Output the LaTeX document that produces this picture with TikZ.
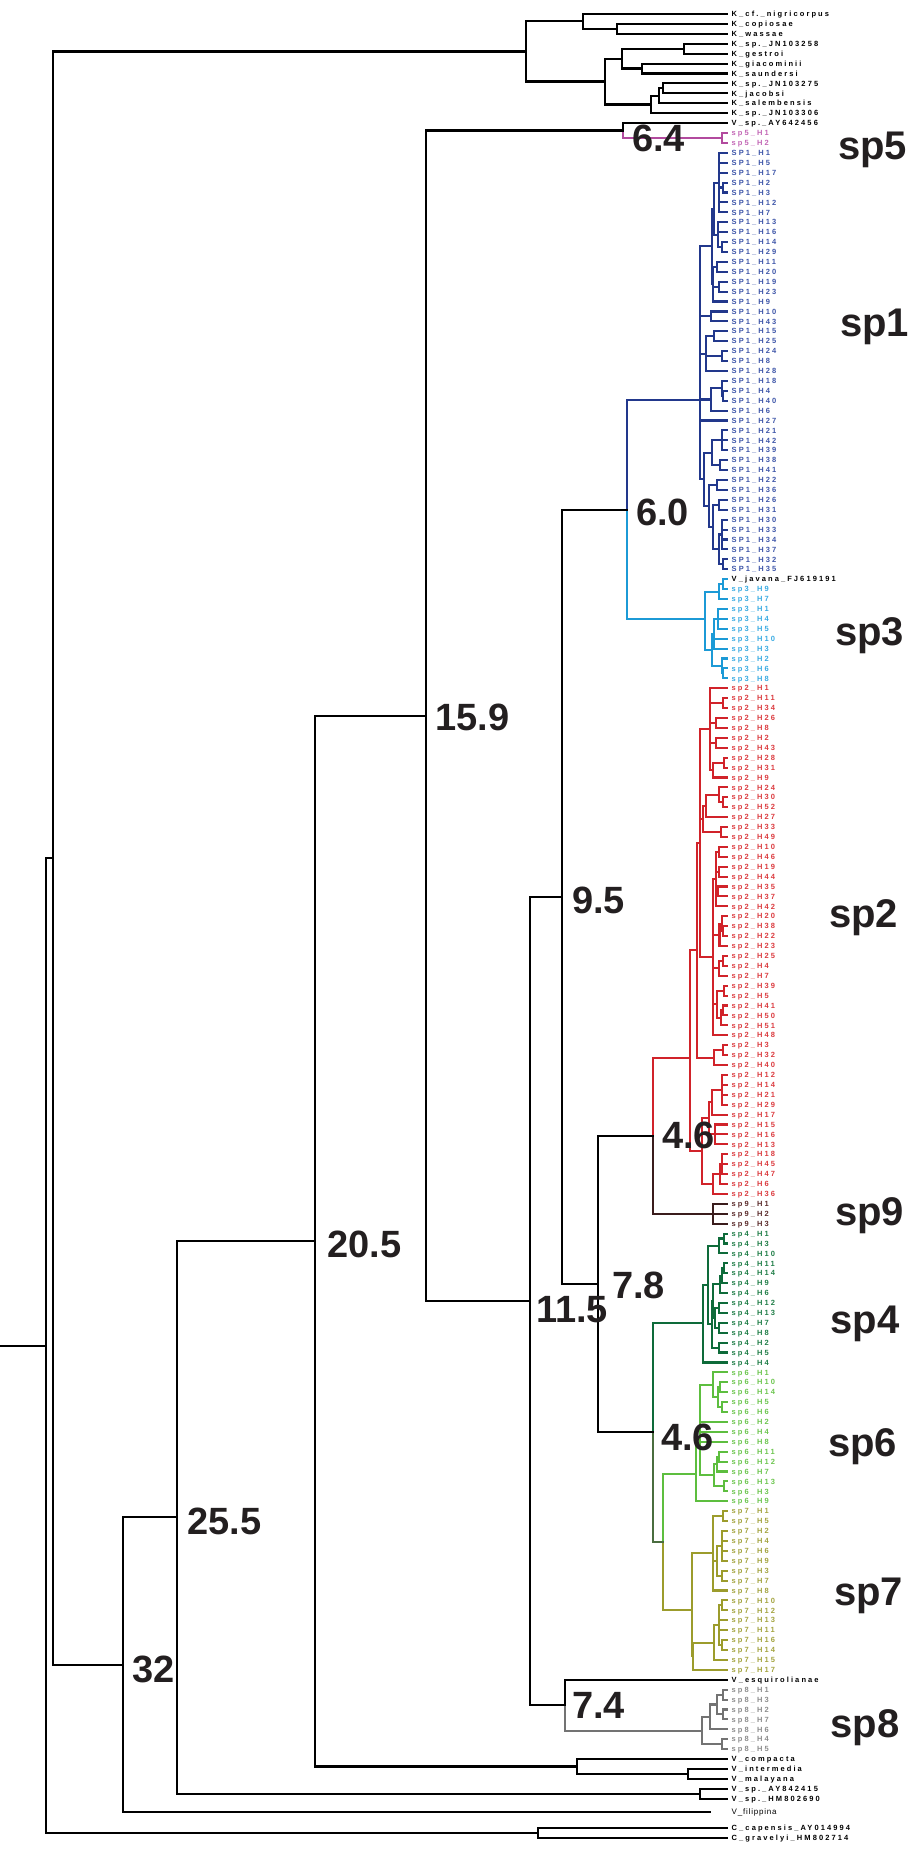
\documentclass[tikz,border=0pt]{standalone}
\usepackage{fontspec}
\setmainfont{Liberation Sans}
\newfontfamily\leaffont{Liberation Sans}[LetterSpace=28]
\newfontfamily\filfont{Liberation Sans}[LetterSpace=10]
\newfontfamily\bigfont{Liberation Sans}
\definecolor{ink}{HTML}{231F20}
\definecolor{c5}{HTML}{B24A9E}\definecolor{t5}{HTML}{C266B5}
\definecolor{c1}{HTML}{22388C}\definecolor{t1}{HTML}{3D55A8}
\definecolor{c3}{HTML}{1C9AD6}\definecolor{t3}{HTML}{3AABE2}
\definecolor{c2}{HTML}{D1232A}\definecolor{t2}{HTML}{DB3B3F}
\definecolor{c9}{HTML}{3A1C1C}\definecolor{t9}{HTML}{5B2B2B}
\definecolor{c4}{HTML}{0E6B3A}\definecolor{t4}{HTML}{1F7D47}
\definecolor{c6}{HTML}{5DBE3F}\definecolor{t6}{HTML}{6CC54E}
\definecolor{c7}{HTML}{9C9C2C}\definecolor{t7}{HTML}{A3A33F}
\definecolor{c8}{HTML}{737373}\definecolor{t8}{HTML}{8C8C8C}
\definecolor{c67}{HTML}{4A6D3F}
\tikzset{
  br/.style={line width=2.1pt, line cap=rect, line join=miter},
  leaf/.style={anchor=west, inner sep=0pt, text height=5.4pt, text depth=0pt,
    font=\leaffont\bfseries\fontsize{7.5}{7.5}\selectfont},
  filleaf/.style={anchor=west, inner sep=0pt, text height=5.7pt, text depth=0pt,
    font=\filfont\fontsize{8}{8}\selectfont},
  splab/.style={anchor=base west, inner sep=0pt, text=ink,
    font=\bigfont\bfseries\fontsize{40}{40}\selectfont},
  numlab/.style={anchor=base west, inner sep=0pt, text=ink,
    font=\bigfont\bfseries\fontsize{38}{38}\selectfont}
}
\makeatletter
\newdimen\tnd
\newcommand\Lf[4]{%
  \coordinate (L#1) at (727,{14+(#1-1)*9.915});
  \node[leaf,text=#3] (L#1t) at (731.5,{14+(#1-1)*9.915}) {#4};
  \expandafter\xdef\csname tc@L#1\endcsname{#2}%
}
\newcommand\Inner[5][]{%
  \gdef\tn@first{}%
  \foreach \c in {#5}{%
    \pgfpointanchor{\c}{center}%
    \ifx\tn@first\@empty\xdef\tn@first{\the\pgf@y}\fi
    \xdef\tn@last{\the\pgf@y}%
  }%
  \if\relax\detokenize{#1}\relax
    \tnd=\tn@first\relax
    \advance\tnd by \tn@last\relax
    \divide\tnd by 2\relax
    \coordinate (#2) at (#3pt,\the\tnd);
  \else
    \coordinate (#2) at (#3,#1);
  \fi
  \foreach \c in {#5}{%
    \edef\tn@col{\csname tc@\c\endcsname}%
    \draw[br,draw=\tn@col] (#2) |- (\c);
  }%
  \expandafter\xdef\csname tc@#2\endcsname{#4}%
}
\makeatother
\begin{document}
\begin{tikzpicture}[x=1pt,y=-1pt]
\useasboundingbox (0,0) rectangle (914,1850);
% ---------------- leaves ----------------
\Lf{1}{black}{black}{K\_cf.\_nigricorpus}
\Lf{2}{black}{black}{K\_copiosae}
\Lf{3}{black}{black}{K\_wassae}
\Lf{4}{black}{black}{K\_sp.\_JN103258}
\Lf{5}{black}{black}{K\_gestroi}
\Lf{6}{black}{black}{K\_giacominii}
\Lf{7}{black}{black}{K\_saundersi}
\Lf{8}{black}{black}{K\_sp.\_JN103275}
\Lf{9}{black}{black}{K\_jacobsi}
\Lf{10}{black}{black}{K\_salembensis}
\Lf{11}{black}{black}{K\_sp.\_JN103306}
\Lf{12}{black}{black}{V\_sp.\_AY642456}
\Lf{13}{c5}{t5}{sp5\_H1}
\Lf{14}{c5}{t5}{sp5\_H2}
\foreach \i/\h in {15/1,16/5,17/17,18/2,19/3,20/12,21/7,22/13,23/16,24/14,25/29,26/11,27/20,28/19,29/23,30/9,31/10,32/43,33/15,34/25,35/24,36/8,37/28,38/18,39/4,40/40,41/6,42/27,43/21,44/42,45/39,46/38,47/41,48/22,49/36,50/26,51/31,52/30,53/33,54/34,55/37,56/32,57/35}{\Lf{\i}{c1}{t1}{SP1\_H\h}}
\Lf{58}{c3}{black}{V\_javana\_FJ619191}
\foreach \i/\h in {59/9,60/7,61/1,62/4,63/5,64/10,65/3,66/2,67/6,68/8}{\Lf{\i}{c3}{t3}{sp3\_H\h}}
\foreach \i/\h in {69/1,70/11,71/34,72/26,73/8,74/2,75/43,76/28,77/31,78/9,79/24,80/30,81/52,82/27,83/33,84/49,85/10,86/46,87/19,88/44,89/35,90/37,91/42,92/20,93/38,94/22,95/23,96/25,97/4,98/7,99/39,100/5,101/41,102/50,103/51,104/48,105/3,106/32,107/40,108/12,109/14,110/21,111/29,112/17,113/15,114/16,115/13,116/18,117/45,118/47,119/6,120/36}{\Lf{\i}{c2}{t2}{sp2\_H\h}}
\foreach \i/\h in {121/1,122/2,123/3}{\Lf{\i}{c9}{t9}{sp9\_H\h}}
\foreach \i/\h in {124/1,125/3,126/10,127/11,128/14,129/9,130/6,131/12,132/13,133/7,134/8,135/2,136/5,137/4}{\Lf{\i}{c4}{t4}{sp4\_H\h}}
\foreach \i/\h in {138/1,139/10,140/14,141/5,142/6,143/2,144/4,145/8,146/11,147/12,148/7,149/13,150/3,151/9}{\Lf{\i}{c6}{t6}{sp6\_H\h}}
\foreach \i/\h in {152/1,153/5,154/2,155/4,156/6,157/9,158/3,159/7,160/8,161/10,162/12,163/13,164/11,165/16,166/14,167/15,168/17}{\Lf{\i}{c7}{t7}{sp7\_H\h}}
\Lf{169}{black}{black}{V\_esquirolianae}
\foreach \i/\h in {170/1,171/3,172/2,173/7,174/6,175/4,176/5}{\Lf{\i}{c8}{t8}{sp8\_H\h}}
\Lf{177}{black}{black}{V\_compacta}
\Lf{178}{black}{black}{V\_intermedia}
\Lf{179}{black}{black}{V\_malayana}
\Lf{180}{black}{black}{V\_sp.\_AY842415}
\Lf{181}{black}{black}{V\_sp.\_HM802690}
\coordinate (L182) at (710,1812);
\node[filleaf] (L182t) at (731.5,1812) {V\_filippina};
\expandafter\xdef\csname tc@L182\endcsname{black}
\coordinate (L183) at (727,1828);
\node[leaf] (L183t) at (731.5,1828) {C\_capensis\_AY014994};
\expandafter\xdef\csname tc@L183\endcsname{black}
\coordinate (L184) at (727,1838);
\node[leaf] (L184t) at (731.5,1838) {C\_gravelyi\_HM802714};
\expandafter\xdef\csname tc@L184\endcsname{black}
% ---------------- K clade ----------------
\Inner{KI}{663.3}{black}{L8,L9}
\Inner{KH}{659.3}{black}{KI,L10}
\Inner{KG}{651}{black}{KH,L11}
\Inner{KE}{684.3}{black}{L4,L5}
\Inner{KF}{641.7}{black}{L6,L7}
\Inner{KD}{621.7}{black}{KE,KF}
\Inner{KC}{605}{black}{KD,KG}
\Inner{KB}{617.3}{black}{L2,L3}
\Inner{KA}{582.7}{black}{L1,KB}
\Inner{Kr}{526}{black}{KA,KC}
% ---------------- sp5 ----------------
\Inner{S5}{721.7}{c5}{L13,L14}
\Inner{VS5}{623.3}{black}{L12,S5}
% ---------------- sp1 ----------------
\Inner{T1a}{723.3}{c1}{L18,L19}
\Inner{T1}{719.3}{c1}{L15,L16,L17,T1a,L20,L21}
\Inner{T2a}{722}{c1}{L24,L25}
\Inner{T2}{718}{c1}{L22,L23,T2a}
\Inner{T12}{714}{c1}{T1,T2}
\Inner{T3a}{716.7}{c1}{L26,L27}
\Inner{T3b}{719.3}{c1}{L28,L29}
\Inner{T3}{713}{c1}{T3a,T3b,L30}
\Inner{T}{711.7}{c1}{T12,T3}
\Inner{M1}{711}{c1}{L31,L32}
\Inner{M2}{714.3}{c1}{L33,L34}
\Inner{M3}{721.7}{c1}{L35,L36}
\Inner{M5}{705.7}{c1}{M2,M3,L37}
\Inner{M4a}{723.3}{c1}{L39,L40}
\Inner{M4}{721.7}{c1}{L38,M4a}
\Inner{M6}{710.7}{c1}{M4,L41}
\Inner{B1a}{721.7}{c1}{L43,L44,L45}
\Inner{B1b}{720}{c1}{L46,L47}
\Inner{B1}{712}{c1}{B1a,B1b}
\Inner{B2a}{716.7}{c1}{L48,L49}
\Inner{B2b}{719}{c1}{L50,L51}
\Inner{B2c}{722}{c1}{L52,L53,L54,L55}
\Inner{B2d}{722.7}{c1}{L56,L57}
\Inner{B2e}{719}{c1}{B2c,B2d}
\Inner{B2f}{712.7}{c1}{B2b,B2e}
\Inner{B2}{709}{c1}{B2a,B2f}
\Inner{B}{704}{c1}{B1,B2}
\Inner[400]{SP1}{700}{c1}{T,M1,M5,M6,L42,B}
% ---------------- sp3 ----------------
\Inner{S3j1}{723.3}{c3}{L58,L59}
\Inner{S3j}{719.3}{c3}{S3j1,L60}
\Inner{S3a}{718.3}{c3}{L61,L62,L63}
\Inner{S3b}{714}{c3}{S3a,L64,L65}
\Inner{S3c1}{723.3}{c3}{L67,L68}
\Inner{S3c}{721.7}{c3}{L66,S3c1}
\Inner{S3d}{711.7}{c3}{S3b,S3c}
\Inner[619.3]{SP3}{705}{c3}{S3j,S3d}
\Inner{N60}{626.7}{black}{SP1,SP3}
% ---------------- sp2 ----------------
\Inner{G1p1}{723.3}{c2}{L70,L71}
\Inner{G1p2}{716}{c2}{L72,L73}
\Inner{G1p3}{716}{c2}{L74,L75}
\Inner{G1p4}{724}{c2}{L76,L77}
\Inner{G1p5}{712.7}{c2}{G1p4,L78}
\Inner{G1}{710}{c2}{L69,G1p1,G1p2,G1p3,G1p5}
\Inner{G2a1}{722.7}{c2}{L80,L81}
\Inner{G2a2}{719.3}{c2}{L79,G2a1}
\Inner{G2a}{706}{c2}{G2a2,L82}
\Inner{G2b}{720.7}{c2}{L83,L84}
\Inner{G2}{702.7}{c2}{G2a,G2b}
\Inner{G3a1}{719}{c2}{L85,L86}
\Inner{G3a2}{719}{c2}{L87,L88}
\Inner{G3a3}{718}{c2}{L89,L90}
\Inner{G3a}{716}{c2}{G3a1,G3a2,G3a3,L91}
\Inner{G3b1}{723.3}{c2}{L93,L94}
\Inner{G3b2}{721.7}{c2}{L92,G3b1}
\Inner{G3b}{719.5}{c2}{G3b2,L95}
\Inner{G3c1}{723.3}{c2}{L96,L97}
\Inner{G3c}{719.3}{c2}{G3c1,L98}
\Inner{G3d1}{724}{c2}{L99,L100}
\Inner{G3d2}{723.3}{c2}{L101,L102}
\Inner{G3d3}{720.7}{c2}{G3d2,L103}
\Inner{G3d}{716.7}{c2}{G3d1,G3d3}
\Inner{G3}{713.3}{c2}{G3a,G3b,G3c,G3d,L104}
\Inner{G12}{700}{c2}{G1,G2,G3}
\Inner{G4a}{723.3}{c2}{L105,L106}
\Inner{G4}{714.3}{c2}{G4a,L107}
\Inner{Gtop}{697.3}{c2}{G12,G4}
\Inner{G5a}{721.7}{c2}{L108,L109,L110,L111}
\Inner{G5b}{711.7}{c2}{G5a,L112}
\Inner{G5c}{715}{c2}{L113,L114,L115}
\Inner{G5}{709.3}{c2}{G5b,G5c}
\Inner{G6a}{722.3}{c2}{L116,L117,L118}
\Inner{G6b}{720}{c2}{G6a,L119}
\Inner{G6}{712.7}{c2}{G6b,L120}
\Inner{Gbot}{701.7}{c2}{G5,G6}
\Inner[1057.7]{SP2}{690}{c2}{Gtop,Gbot}
% ---------------- sp9 ----------------
\Inner{SP9}{713.3}{c9}{L121,L122,L123}
\Inner{N46a}{652.7}{black}{SP2,SP9}
% ---------------- sp4 ----------------
\Inner{S4p1}{724}{c4}{L124,L125}
\Inner{S4b}{719.3}{c4}{S4p1,L126}
\Inner{S4p2}{724}{c4}{L127,L128}
\Inner{S4c1}{721.7}{c4}{S4p2,L129}
\Inner{S4c}{720}{c4}{S4c1,L130}
\Inner{S4p3}{719.3}{c4}{L131,L132}
\Inner{S4p4}{719.3}{c4}{L133,L134}
\Inner{S4d}{715}{c4}{S4p3,S4p4}
\Inner{S4e}{713.3}{c4}{S4c,S4d}
\Inner{S4p5}{719.3}{c4}{L135,L136}
\Inner{S4f}{711.7}{c4}{S4e,S4p5}
\Inner{S4a}{708.3}{c4}{S4b,S4f}
\Inner[1322.7]{SP4}{702.7}{c4}{S4a,L137}
% ---------------- sp6 ----------------
\Inner{S6p1}{720}{c6}{L139,L140}
\Inner{S6p2}{721.7}{c6}{L141,L142}
\Inner{S6b}{718.3}{c6}{S6p1,S6p2}
\Inner{S6a}{712.7}{c6}{L138,S6b}
\Inner{S6p3}{719.3}{c6}{L146,L147}
\Inner{S6c}{716.7}{c6}{S6p3,L148}
\Inner{S6p4}{724}{c6}{L149,L150}
\Inner{S6d}{714.3}{c6}{S6c,S6p4}
\Inner{S6x}{700}{c6}{S6a,L143,L144,L145,S6d}
\Inner[1474.3]{SP6}{695.7}{c6}{S6x,L151}
% ---------------- sp7 ----------------
\Inner{S7p1}{723.3}{c7}{L152,L153}
\Inner{S7c}{721.7}{c7}{L154,L155,L156,L157}
\Inner{S7p2}{721.7}{c7}{L158,L159}
\Inner{S7d}{716.7}{c7}{S7c,S7p2}
\Inner{S7a}{712.7}{c7}{S7p1,S7d,L160}
\Inner{S7p3}{722}{c7}{L161,L162}
\Inner{S7p4}{722}{c7}{L165,L166}
\Inner{S7f}{719.3}{c7}{S7p3,L163,L164,S7p4}
\Inner{S7e}{714.3}{c7}{S7f,L167}
\Inner{S7b}{693.3}{c7}{S7e,L168}
\Inner[1610]{SP7}{691.7}{c7}{S7a,S7b}
\Inner{N67}{662.7}{c67}{SP6,SP7}
\Inner{N46b}{652.7}{black}{SP4,N67}
\Inner{N78}{598.3}{black}{N46a,N46b}
\Inner{N95}{561.7}{black}{N60,N78}
% ---------------- sp8 ----------------
\Inner{S8p1}{723.3}{c8}{L170,L171}
\Inner{S8p2}{723.3}{c8}{L172,L173}
\Inner{S8b}{716.7}{c8}{S8p1,S8p2}
\Inner{S8a}{710}{c8}{S8b,L174}
\Inner{S8p3}{721.7}{c8}{L175,L176}
\Inner{SP8}{701.7}{c8}{S8a,S8p3}
\Inner{N74}{565}{black}{L169,SP8}
\Inner{N115}{530}{black}{N95,N74}
\Inner{N159}{425.7}{black}{VS5,N115}
% ---------------- outgroups / backbone ----------------
\Inner{VIM}{688.3}{black}{L178,L179}
\Inner{VC}{577.3}{black}{L177,VIM}
\Inner{N205}{315}{black}{N159,VC}
\Inner{VAY}{700}{black}{L180,L181}
\Inner{N255}{176.7}{black}{N205,VAY}
\Inner{N32}{123.3}{black}{N255,L182}
\Inner{N53}{53.3}{black}{Kr,N32}
\Inner{CN}{538}{black}{L183,L184}
\Inner{R}{46}{black}{N53,CN}
\coordinate (stem) at (R -| 0,0);
\draw[br] (stem) -- (R);
% ---------------- node ages ----------------
\node[numlab] (a64) at (632,151) {6.4};
\node[numlab] (a60) at (636,525) {6.0};
\node[numlab] (a159) at (435,730) {15.9};
\node[numlab] (a95) at (572,913) {9.5};
\node[numlab] (a46a) at (662,1148) {4.6};
\node[numlab] (a78) at (612,1298) {7.8};
\node[numlab] (a115) at (536,1322) {11.5};
\node[numlab] (a46b) at (661,1450) {4.6};
\node[numlab] (a74) at (572,1718) {7.4};
\node[numlab] (a205) at (327,1257.5) {20.5};
\node[numlab] (a255) at (187,1534) {25.5};
\node[numlab] (a32) at (132,1682.7) {32};
% ---------------- species labels ----------------
\node[splab] (sp5) at (838,159) {sp5};
\node[splab] (sp1) at (840,336) {sp1};
\node[splab] (sp3) at (835,645) {sp3};
\node[splab] (sp2) at (829,927) {sp2};
\node[splab] (sp9) at (835,1225) {sp9};
\node[splab] (sp4) at (830.5,1333) {sp4};
\node[splab] (sp6) at (828,1456) {sp6};
\node[splab] (sp7) at (834,1605) {sp7};
\node[splab] (sp8) at (830.5,1737) {sp8};
\end{tikzpicture}
\end{document}
